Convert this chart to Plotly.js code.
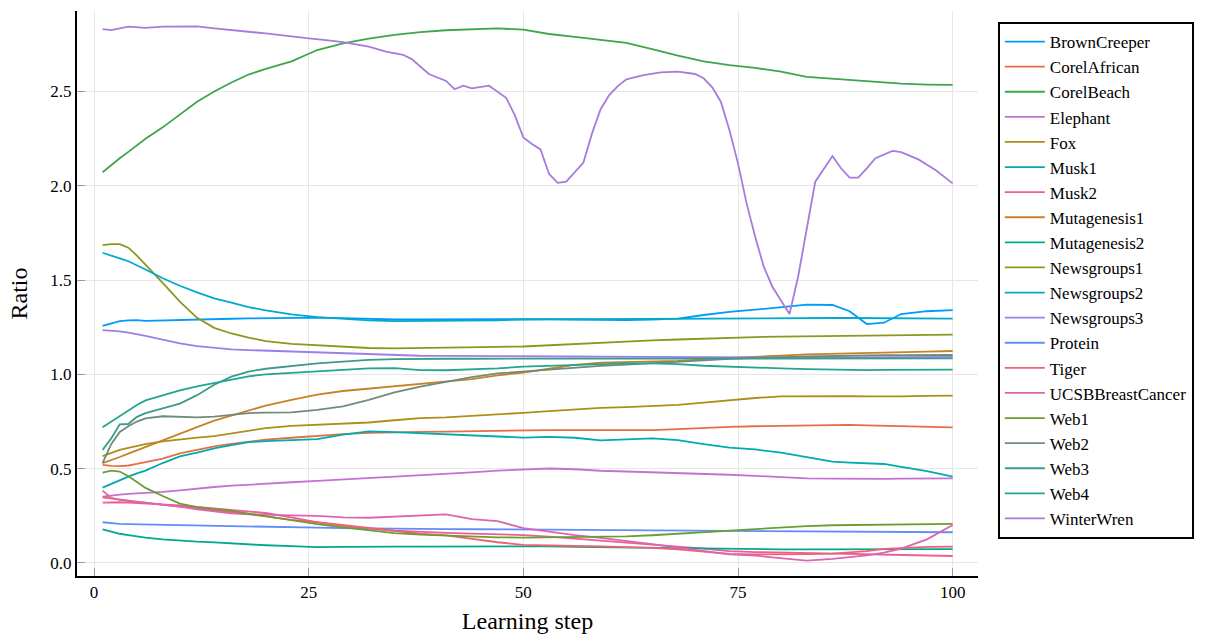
<!DOCTYPE html>
<html>
<head>
<meta charset="utf-8">
<script src="https://cdn.plot.ly/plotly-3.0.1.min.js"></script>
<style>html,body{margin:0;padding:0;background:#fff;}#chart{width:1218px;height:641px;}</style>
</head>
<body>
<div id="chart"></div>
<script>
const steps = [1,2,3,4,5,6,8,10,12,14,16,18,20,23,26,29,32,35,38,41,44,47,50,53,56,59,62,65,68,71,74,77,80,83,86,88,90,92,94,97,100];
// WinterWren has sharper features, read at finer steps
const winterWrenSteps = [1,2,4,6,8,10,12,14,16,18,20,22,25,27,29,32,34,36,37,39,41,42,43,44,46,48,49,50,51,52,53,54,55,57,58,59,60,61,62,64,66,68,70,71,72,73,74,75,76,77,78,79,80,81,82,83,84,86,87,88,89,90,91,93,94,96,98,100];

const seriesNames = ["BrownCreeper","CorelAfrican","CorelBeach","Elephant","Fox","Musk1","Musk2","Mutagenesis1","Mutagenesis2","Newsgroups1","Newsgroups2","Newsgroups3","Protein","Tiger","UCSBBreastCancer","Web1","Web2","Web3","Web4","WinterWren"];

const brownCreeper = [1.257,1.27,1.283,1.287,1.288,1.284,1.287,1.288,1.29,1.292,1.295,1.297,1.299,1.300,1.301,1.298,1.294,1.291,1.291,1.292,1.293,1.294,1.295,1.293,1.291,1.289,1.288,1.29,1.296,1.315,1.332,1.343,1.355,1.370,1.368,1.335,1.267,1.274,1.320,1.335,1.341];
const corelAfrican = [0.52,0.515,0.514,0.517,0.525,0.536,0.554,0.581,0.6,0.618,0.632,0.644,0.654,0.664,0.674,0.683,0.69,0.694,0.695,0.697,0.7,0.703,0.705,0.705,0.704,0.703,0.703,0.705,0.71,0.717,0.722,0.725,0.728,0.731,0.732,0.732,0.73,0.728,0.724,0.721,0.719];
const corelBeach = [2.072,2.11,2.146,2.18,2.216,2.25,2.31,2.38,2.446,2.50,2.548,2.59,2.62,2.66,2.72,2.755,2.78,2.80,2.815,2.825,2.83,2.835,2.828,2.805,2.79,2.775,2.758,2.725,2.69,2.66,2.64,2.625,2.605,2.578,2.568,2.558,2.552,2.546,2.542,2.537,2.535];
const elephant = [0.352,0.358,0.362,0.366,0.368,0.371,0.377,0.385,0.395,0.403,0.41,0.416,0.421,0.428,0.435,0.442,0.448,0.455,0.463,0.47,0.48,0.49,0.497,0.501,0.497,0.489,0.485,0.481,0.479,0.474,0.468,0.462,0.455,0.449,0.447,0.446,0.446,0.446,0.447,0.448,0.449];
const fox = [0.567,0.585,0.600,0.61,0.62,0.63,0.645,0.656,0.665,0.673,0.688,0.703,0.715,0.727,0.733,0.737,0.745,0.757,0.768,0.772,0.779,0.787,0.796,0.805,0.815,0.822,0.826,0.83,0.838,0.85,0.864,0.875,0.884,0.885,0.885,0.885,0.883,0.882,0.884,0.886,0.887];
const musk1 = [0.40,0.42,0.44,0.458,0.475,0.49,0.53,0.565,0.585,0.608,0.625,0.641,0.646,0.651,0.657,0.681,0.698,0.694,0.688,0.684,0.68,0.672,0.665,0.669,0.664,0.65,0.655,0.661,0.652,0.63,0.612,0.602,0.585,0.56,0.537,0.532,0.528,0.525,0.51,0.487,0.458];
const musk2 = [0.32,0.322,0.322,0.32,0.318,0.316,0.313,0.305,0.297,0.289,0.282,0.274,0.265,0.242,0.215,0.197,0.182,0.172,0.165,0.16,0.156,0.152,0.148,0.14,0.13,0.12,0.11,0.098,0.087,0.076,0.063,0.058,0.055,0.053,0.05,0.05,0.048,0.046,0.043,0.04,0.037];
const mutagenesis1 = [0.53,0.545,0.562,0.58,0.598,0.615,0.652,0.688,0.72,0.755,0.783,0.81,0.835,0.865,0.893,0.912,0.925,0.937,0.95,0.962,0.975,0.995,1.01,1.03,1.05,1.062,1.066,1.067,1.072,1.08,1.088,1.095,1.10,1.106,1.11,1.112,1.114,1.116,1.118,1.121,1.124];
const mutagenesis2 = [0.178,0.165,0.155,0.148,0.141,0.135,0.125,0.118,0.113,0.109,0.103,0.099,0.094,0.089,0.084,0.085,0.087,0.087,0.087,0.087,0.088,0.089,0.09,0.088,0.085,0.083,0.081,0.079,0.077,0.075,0.073,0.072,0.072,0.072,0.072,0.072,0.073,0.073,0.073,0.074,0.074];
const newsgroups1 = [1.686,1.691,1.691,1.672,1.63,1.58,1.485,1.386,1.30,1.247,1.217,1.195,1.177,1.162,1.155,1.149,1.140,1.138,1.139,1.141,1.143,1.146,1.148,1.155,1.162,1.168,1.174,1.180,1.185,1.190,1.195,1.198,1.200,1.202,1.204,1.205,1.206,1.207,1.208,1.210,1.211];
const newsgroups2 = [1.645,1.632,1.615,1.60,1.58,1.556,1.51,1.47,1.435,1.403,1.38,1.357,1.34,1.318,1.304,1.294,1.287,1.283,1.283,1.283,1.284,1.287,1.291,1.292,1.292,1.292,1.292,1.293,1.294,1.295,1.297,1.298,1.299,1.299,1.299,1.299,1.298,1.297,1.297,1.296,1.296];
const newsgroups3 = [1.235,1.233,1.228,1.221,1.213,1.204,1.185,1.165,1.15,1.14,1.133,1.129,1.126,1.121,1.116,1.112,1.107,1.102,1.099,1.098,1.098,1.097,1.097,1.096,1.095,1.094,1.093,1.092,1.091,1.089,1.088,1.088,1.088,1.089,1.09,1.09,1.091,1.091,1.092,1.092,1.093];
const protein = [0.216,0.21,0.207,0.206,0.205,0.205,0.204,0.2,0.199,0.197,0.195,0.193,0.192,0.19,0.187,0.185,0.183,0.182,0.181,0.18,0.179,0.178,0.178,0.177,0.176,0.175,0.174,0.173,0.172,0.171,0.17,0.169,0.168,0.167,0.166,0.166,0.165,0.165,0.164,0.164,0.163];
const tiger = [0.348,0.342,0.336,0.33,0.325,0.319,0.308,0.299,0.29,0.281,0.271,0.26,0.247,0.229,0.216,0.2,0.185,0.167,0.155,0.146,0.128,0.11,0.096,0.092,0.09,0.088,0.086,0.08,0.072,0.062,0.048,0.045,0.045,0.047,0.05,0.055,0.063,0.075,0.08,0.085,0.087];
const ucsbBreastCancer = [0.384,0.345,0.335,0.328,0.323,0.32,0.31,0.299,0.285,0.272,0.263,0.258,0.255,0.252,0.25,0.242,0.24,0.245,0.25,0.258,0.233,0.222,0.185,0.166,0.148,0.133,0.118,0.1,0.082,0.065,0.046,0.039,0.026,0.013,0.022,0.03,0.04,0.055,0.076,0.125,0.201];
const web1 = [0.479,0.49,0.485,0.46,0.43,0.398,0.355,0.315,0.296,0.287,0.276,0.262,0.248,0.226,0.206,0.189,0.173,0.158,0.15,0.144,0.139,0.136,0.135,0.136,0.137,0.138,0.141,0.147,0.155,0.161,0.169,0.177,0.188,0.196,0.2,0.201,0.201,0.202,0.203,0.205,0.207];
const web2 = [0.53,0.63,0.695,0.725,0.75,0.767,0.778,0.773,0.772,0.776,0.785,0.795,0.797,0.799,0.812,0.83,0.865,0.905,0.935,0.962,0.985,1.005,1.015,1.026,1.036,1.045,1.052,1.058,1.066,1.074,1.082,1.088,1.092,1.095,1.098,1.1,1.101,1.102,1.102,1.103,1.103];
const web3 = [0.60,0.66,0.735,0.737,0.775,0.795,0.82,0.845,0.89,0.945,0.988,1.015,1.03,1.045,1.058,1.068,1.077,1.081,1.083,1.083,1.083,1.083,1.083,1.083,1.083,1.083,1.083,1.083,1.083,1.083,1.083,1.083,1.084,1.084,1.084,1.085,1.085,1.085,1.085,1.085,1.085];
const web4 = [0.72,0.75,0.778,0.806,0.838,0.862,0.89,0.915,0.937,0.954,0.97,0.99,1.0,1.008,1.014,1.024,1.032,1.033,1.023,1.022,1.026,1.032,1.041,1.046,1.051,1.055,1.058,1.059,1.055,1.046,1.04,1.036,1.032,1.028,1.025,1.023,1.023,1.024,1.024,1.025,1.025];
const winterWren = [2.831,2.826,2.844,2.838,2.844,2.846,2.846,2.835,2.828,2.817,2.808,2.796,2.782,2.773,2.762,2.738,2.712,2.695,2.672,2.593,2.556,2.512,2.531,2.517,2.531,2.467,2.375,2.257,2.222,2.193,2.063,2.016,2.022,2.123,2.278,2.406,2.481,2.529,2.565,2.587,2.602,2.605,2.593,2.570,2.522,2.446,2.296,2.119,1.907,1.730,1.571,1.465,1.39,1.320,1.518,1.77,2.022,2.158,2.093,2.043,2.043,2.093,2.146,2.185,2.179,2.140,2.084,2.013];

const xTicks = [0,25,50,75,100];
const yTicks = [0,0.5,1.0,1.5,2.0,2.5];
const yTickLabels = ["0.0","0.5","1.0","1.5","2.0","2.5"];

const colors = ["#009AFA","#E36F47","#3EA44E","#C371D2","#AC8E18","#00AAAE","#ED5E93","#C68225","#00A98D","#8E971D","#00A9CD","#9B7FE9","#618DF6","#F16073","#DD64B5","#6B9E32","#6F8C78","#3E9A8C","#23A58F","#A77BDB"];

const seriesValues = [brownCreeper,corelAfrican,corelBeach,elephant,fox,musk1,musk2,mutagenesis1,mutagenesis2,newsgroups1,newsgroups2,newsgroups3,protein,tiger,ucsbBreastCancer,web1,web2,web3,web4,winterWren];

const traces = seriesNames.map((name,i) => ({
  type: 'scatter',
  mode: 'lines',
  name: name,
  x: name === 'WinterWren' ? winterWrenSteps : steps,
  y: seriesValues[i],
  line: {color: colors[i], width: 1.8}
}));

const serif = 'Liberation Serif, Times New Roman, serif';
const layout = {
  width: 1218, height: 641,
  margin: {l: 77, r: 240, t: 11, b: 65},
  paper_bgcolor: '#fff', plot_bgcolor: '#fff',
  showlegend: true,
  xaxis: {
    range: [-1.98, 102.95], tickvals: xTicks, ticktext: xTicks.map(String),
    showline: true, linecolor: '#000', linewidth: 2, mirror: false,
    showgrid: true, gridcolor: '#e6e6e6', gridwidth: 1, zeroline: false,
    ticks: 'inside', ticklen: 8, tickcolor: '#9a9a9a', tickwidth: 1,
    tickfont: {family: serif, size: 17, color: '#000'},
    title: {text: 'Learning step', font: {family: serif, size: 24, color: '#000'}, standoff: 11}
  },
  yaxis: {
    range: [-0.069, 2.927], tickvals: yTicks, ticktext: yTickLabels,
    showline: true, linecolor: '#000', linewidth: 2, mirror: false,
    showgrid: true, gridcolor: '#e6e6e6', gridwidth: 1, zeroline: false,
    ticks: 'inside', ticklen: 8, tickcolor: '#9a9a9a', tickwidth: 1,
    tickfont: {family: serif, size: 17, color: '#000'},
    title: {text: 'Ratio', font: {family: serif, size: 24, color: '#000'}, standoff: 16}
  },
  legend: {
    x: 1.022, y: 0.9805, xanchor: 'left', yanchor: 'top',
    bordercolor: '#000', borderwidth: 2, bgcolor: '#fff',
    font: {family: serif, size: 17, color: '#000'},
    itemwidth: 40, tracegroupgap: 0
  }
};

Plotly.newPlot('chart', traces, layout, {displayModeBar: false, staticPlot: true});
</script>
</body>
</html>
